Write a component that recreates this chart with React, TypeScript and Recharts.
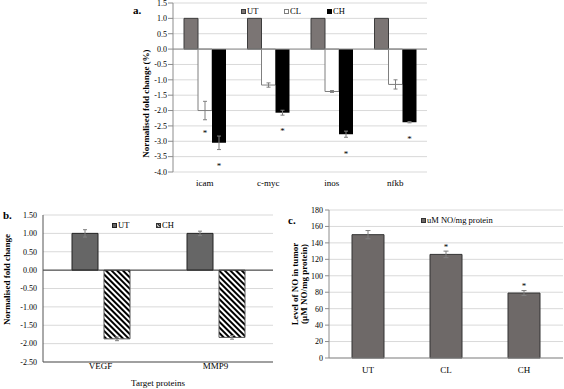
import React from 'react';
import { ComposedChart, Bar, XAxis, YAxis, CartesianGrid, ErrorBar, ReferenceLine, Legend, LabelList, Label } from 'recharts';

const FONT = '"Liberation Serif", "Times New Roman", serif';
const GRID = '#d9d9d9';
const AXIS = '#8c8c8c';
const ERR = '#7f7f7f';

// panel a - gene expression
const genes = ['icam', 'c-myc', 'inos', 'nfkb'];
const utA = [1, 1, 1, 1];
const clA = [-2.0, -1.17, -1.38, -1.15];
const chA = [-3.05, -2.07, -2.77, -2.38];
const clErrA = [0.3, 0.07, 0.03, 0.15];
const chErrA = [0.22, 0.08, 0.1, 0.02];
const clStarA = [-2.68, null, null, null];
const chStarA = [-3.75, -2.62, -3.35, -2.88];
const ticksA = [1.5, 1.0, 0.5, 0, -0.5, -1.0, -1.5, -2.0, -2.5, -3.0, -3.5, -4.0];

// panel b - target proteins
const proteins = ['VEGF', 'MMP9'];
const utB = [1.0, 1.0];
const utErrB = [0.1, 0.06];
const chB = [-1.87, -1.83];
const chErrB = [0.05, 0.05];
const ticksB = [1.5, 1.0, 0.5, 0, -0.5, -1.0, -1.5, -2.0, -2.5];

// panel c - NO level
const groups = ['UT', 'CL', 'CH'];
const noLevel = [150, 126, 79];
const noErr = [5, 4, 3];
const noStar = [null, 137, 90];
const ticksC = [0, 20, 40, 60, 80, 100, 120, 140, 160, 180];

const rowsA = genes.map((g, i) => ({ gene: g, UT: utA[i], CL: clA[i], CH: chA[i], clErr: clErrA[i], chErr: chErrA[i] }));
const rowsB = proteins.map((p, i) => ({ protein: p, UT: utB[i], utErr: utErrB[i], CH: chB[i], chErr: chErrB[i] }));
const rowsC = groups.map((g, i) => ({ group: g, no: noLevel[i], err: noErr[i] }));

// asterisk below/above a bar, placed with the bar's own pixel scale
const starLabel = (stars: (number | null)[]) => (props: any) => {
  const { index, value } = props;
  const star = stars[index];
  const vb = props.viewBox || props;
  if (star == null || !vb || !value) return null;
  const y0 = Number(vb.y);
  const h = Number(vb.height);
  const top = Math.min(y0, y0 + h);
  const bottom = Math.max(y0, y0 + h);
  const ppu = (bottom - top) / Math.abs(value);
  const zero = value >= 0 ? bottom : top;
  const cy = zero - star * ppu;
  return (
    <text x={Number(vb.x) + Number(vb.width) / 2} y={cy + 4.5} textAnchor="middle" fontSize={9} fontFamily={FONT} fill="#000">
      *
    </text>
  );
};

const yTitle = (lines: string[], dx: number, dyShift: number, size: number) => (props: any) => {
  const vb = props.viewBox;
  const cx = vb.x + dx;
  const cy = vb.y + vb.height / 2 + dyShift;
  return (
    <text transform={`rotate(-90, ${cx}, ${cy})`} x={cx} y={cy} textAnchor="middle" fontFamily={FONT} fontWeight="bold" fontSize={size} fill="#000">
      {lines.map((l, i) => (
        <tspan key={l} x={cx} dy={i === 0 ? (-(lines.length - 1) * size * 0.5 + size * 0.35) : size * 0.95}>{l}</tspan>
      ))}
    </text>
  );
};

const Swatch = ({ fill, stroke, hatch }: { fill: string; stroke: string; hatch?: boolean }) => (
  <svg width={5} height={5} style={{ marginRight: 1 }}>
    {hatch && (
      <defs>
        <pattern id="hatchSw" width="2.5" height="2.5" patternUnits="userSpaceOnUse" patternTransform="rotate(-45)">
          <rect width="2.5" height="2.5" fill="#fff" />
          <rect width="1.3" height="2.5" fill="#000" />
        </pattern>
      </defs>
    )}
    <rect x={0.5} y={0.5} width={4} height={4} fill={hatch ? 'url(#hatchSw)' : fill} stroke={stroke} strokeWidth={1} />
  </svg>
);

const legendRow = (items: { label: string; fill: string; stroke: string; hatch?: boolean }[], step: number) => () => (
  <div style={{ display: 'flex', fontFamily: FONT, fontSize: 8.5, lineHeight: '12px', color: '#000' }}>
    {items.map((it) => (
      <div key={it.label} style={{ width: step, display: 'flex', alignItems: 'center', whiteSpace: 'nowrap' }}>
        <Swatch fill={it.fill} stroke={it.stroke} hatch={it.hatch} />
        <span>{it.label}</span>
      </div>
    ))}
  </div>
);

const tickStyle = { fontFamily: FONT, fontSize: 8, fill: '#000' };
const catStyle = { fontFamily: FONT, fontSize: 9, fill: '#000' };

const PanelTag = ({ text, left, top }: { text: string; left: number; top: number }) => (
  <div style={{ position: 'absolute', left, top, fontFamily: FONT, fontWeight: 'bold', fontSize: 11, lineHeight: '12px' }}>{text}</div>
);

const PanelA = () => (
  <ComposedChart width={440} height={195} data={rowsA} margin={{ top: 3, right: 13, bottom: 3, left: 113 }} barSize={14} barGap={0}>
    <CartesianGrid vertical={false} stroke={GRID} />
    <XAxis dataKey="gene" height={20} axisLine={false} tickLine={false} tickSize={0} tickMargin={8} tick={catStyle} />
    <YAxis width={60} domain={[-4, 1.5]} ticks={ticksA} interval={0} tickFormatter={(v: number) => v.toFixed(1)}
      axisLine={{ stroke: AXIS }} tickLine={{ stroke: AXIS }} tickSize={5} tickMargin={1} tick={tickStyle}>
      <Label content={yTitle(['Normalised fold change (%)'], 33, 16, 9)} />
    </YAxis>
    <ReferenceLine y={0} stroke={AXIS} />
    <Legend layout="horizontal" verticalAlign="middle" align="center" wrapperStyle={{ left: 241, top: 5, width: 'auto' }}
      content={legendRow([
        { label: 'UT', fill: '#7b7574', stroke: '#3d3d3d' },
        { label: 'CL', fill: '#fff', stroke: '#7f7f7f' },
        { label: 'CH', fill: '#000', stroke: '#000' },
      ], 43)} />
    <Bar dataKey="UT" fill="#7b7574" stroke="#3d3d3d" strokeWidth={1} isAnimationActive={false} />
    <Bar dataKey="CL" fill="#ffffff" stroke="#7f7f7f" strokeWidth={1} isAnimationActive={false}>
      <ErrorBar dataKey="clErr" direction="y" width={2} stroke={ERR} strokeWidth={1} />
      <LabelList dataKey="CL" content={starLabel(clStarA)} />
    </Bar>
    <Bar dataKey="CH" fill="#000000" isAnimationActive={false}>
      <ErrorBar dataKey="chErr" direction="y" width={2} stroke={ERR} strokeWidth={1} />
      <LabelList dataKey="CH" content={starLabel(chStarA)} />
    </Bar>
  </ComposedChart>
);

const PanelB = () => (
  <ComposedChart width={290} height={189} data={rowsB} margin={{ top: 15, right: 17, bottom: 0, left: 0 }} barSize={26} barGap={6}>
    <defs>
      <pattern id="hatchB" width="4" height="4" patternUnits="userSpaceOnUse" patternTransform="rotate(-45)">
        <rect width="4" height="4" fill="#fff" />
        <rect width="2" height="4" fill="#000" />
      </pattern>
    </defs>
    <CartesianGrid vertical={false} stroke={GRID} />
    <XAxis xAxisId="top" orientation="top" dataKey="protein" height={0} tick={false} tickLine={false} axisLine={{ stroke: '#555' }} />
    <XAxis dataKey="protein" height={27} axisLine={{ stroke: '#555' }} tickLine={false} tickSize={0} tickMargin={1} tick={catStyle}>
      <Label value="Target proteins" position="insideBottom" offset={3} style={{ fontFamily: FONT, fontSize: 9, fill: '#000' }} />
    </XAxis>
    <YAxis width={43} domain={[-2.5, 1.5]} ticks={ticksB} interval={0} tickFormatter={(v: number) => v.toFixed(2)}
      axisLine={{ stroke: '#555' }} tickLine={false} tickSize={0} tickMargin={6} tick={tickStyle}>
      <Label content={yTitle(['Normalised fold change'], 7, -9, 9)} />
    </YAxis>
    <YAxis yAxisId="right" orientation="right" width={0} domain={[-2.5, 1.5]} tick={false} tickLine={false} axisLine={{ stroke: '#555' }} />
    <ReferenceLine y={0} stroke="#333" />
    <Legend layout="horizontal" verticalAlign="middle" align="center" wrapperStyle={{ left: 112, top: 19, width: 'auto' }}
      content={legendRow([
        { label: 'UT', fill: '#666666', stroke: '#222' },
        { label: 'CH', fill: '#fff', stroke: '#333', hatch: true },
      ], 44)} />
    <Bar dataKey="UT" fill="#666666" stroke="#222" strokeWidth={1} isAnimationActive={false}>
      <ErrorBar dataKey="utErr" direction="y" width={2} stroke={ERR} strokeWidth={1} />
    </Bar>
    <Bar dataKey="CH" fill="url(#hatchB)" stroke="#555" strokeWidth={1} isAnimationActive={false}>
      <ErrorBar dataKey="chErr" direction="y" width={2} stroke={ERR} strokeWidth={1} />
    </Bar>
  </ComposedChart>
);

const PanelC = () => (
  <ComposedChart width={284} height={189} data={rowsC} margin={{ top: 10, right: 1, bottom: 0, left: 0 }} barSize={32}>
    <CartesianGrid vertical={false} stroke={GRID} />
    <XAxis xAxisId="edges" type="number" domain={[0, 3]} ticks={[0, 1, 2, 3]} height={0} tick={false} tickSize={4}
      tickLine={{ stroke: AXIS }} axisLine={false} />
    <XAxis dataKey="group" height={31} axisLine={{ stroke: AXIS }} tickLine={false} tickSize={0} tickMargin={9} tick={catStyle} />
    <YAxis width={49} domain={[0, 180]} ticks={ticksC} interval={0}
      axisLine={{ stroke: AXIS }} tickLine={{ stroke: AXIS }} tickSize={4} tickMargin={2} tick={tickStyle}>
      <Label content={yTitle(['Level of NO in tumor', '(µM NO/mg protein)'], 19.5, 0, 9)} />
    </YAxis>
    <Legend layout="horizontal" verticalAlign="middle" align="center" wrapperStyle={{ left: 141, top: 14, width: 'auto' }}
      content={legendRow([{ label: 'uM NO/mg protein', fill: '#6e6968', stroke: '#333' }], 90)} />
    <Bar dataKey="no" fill="#6e6968" stroke="#333" strokeWidth={1} isAnimationActive={false}>
      <ErrorBar dataKey="err" direction="y" width={2.5} stroke={ERR} strokeWidth={1} />
      <LabelList dataKey="no" content={starLabel(noStar)} />
    </Bar>
  </ComposedChart>
);

export default function App() {
  return (
    <div style={{ position: 'absolute', left: 0, top: 0, width: 564, height: 389, background: '#fff', overflow: 'hidden' }}>
      <div style={{ position: 'absolute', left: 0, top: 0 }}><PanelA /></div>
      <div style={{ position: 'absolute', left: 0, top: 200 }}><PanelB /></div>
      <div style={{ position: 'absolute', left: 280, top: 200 }}><PanelC /></div>
      <PanelTag text="a." left={133} top={4} />
      <PanelTag text="b." left={3} top={209} />
      <PanelTag text="c." left={288} top={214} />
    </div>
  );
}
